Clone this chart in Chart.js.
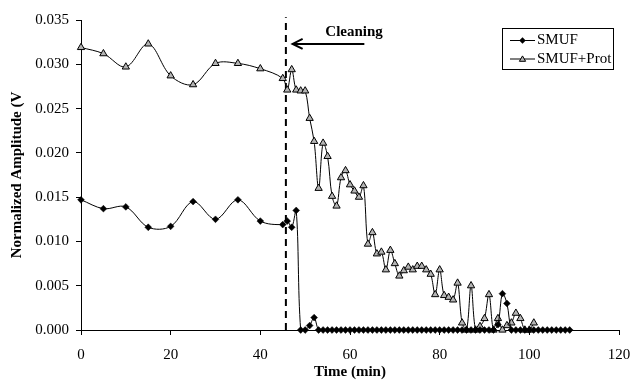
<!DOCTYPE html>
<html>
<head>
<meta charset="utf-8">
<script src="https://cdn.jsdelivr.net/npm/chart.js@4.4.1/dist/chart.umd.min.js"></script>
<style>
  body { margin: 0; background: #fff; }
</style>
</head>
<body>
<canvas id="chart" width="631" height="380"></canvas>
<script>
// values (time in min, amplitude in V)
const smufTime = [0, 5, 10, 15, 20, 25, 30, 35, 40, 45,
  46, 47, 48, 49, 50, 51, 52, 53, 54, 55, 56, 57, 58, 59, 60,
  61, 62, 63, 64, 65, 66, 67, 68, 69, 70, 71, 72, 73, 74, 75,
  76, 77, 78, 79, 80, 81, 82, 83, 84, 85, 86, 87, 88, 89, 90,
  91, 92, 93, 94, 95, 96, 97, 98, 99, 100, 101, 102, 103, 104, 105,
  106, 107, 108, 109];
const smufValue = [0.0147, 0.0137, 0.0139, 0.0116, 0.0117, 0.0145, 0.0125, 0.0147, 0.0123, 0.0119,
  0.0123, 0.0116, 0.0135, 0, 0, 0.0005, 0.0014, 0, 0, 0, 0, 0, 0, 0, 0,
  0, 0, 0, 0, 0, 0, 0, 0, 0, 0, 0, 0, 0, 0, 0,
  0, 0, 0, 0, 0, 0, 0, 0, 0, 0, 0, 0, 0, 0, 0,
  0, 0, 0.0006, 0.0041, 0.0030, 0, 0, 0, 0, 0, 0, 0, 0, 0, 0,
  0, 0, 0, 0];

const protTime = [0, 5, 10, 15, 20, 25, 30, 35, 40, 45,
  46, 47, 48, 49, 50, 51, 52, 53, 54, 55, 56, 57, 58, 59, 60,
  61, 62, 63, 64, 65, 66, 67, 68, 69, 70, 71, 72, 73, 74, 75,
  76, 77, 78, 79, 80, 81, 82, 83, 84, 85, 86, 87, 88, 89, 90,
  91, 92, 93, 94, 95, 96, 97, 98, 99, 100, 101];
const protValue = [0.0319, 0.0312, 0.0297, 0.0323, 0.0287, 0.0277, 0.0301, 0.0301, 0.0295, 0.0284,
  0.0271, 0.0294, 0.0271, 0.0270, 0.0270, 0.0239, 0.0213, 0.0160, 0.0211, 0.0196, 0.0151, 0.0140, 0.0172, 0.0180, 0.0164,
  0.0157, 0.0150, 0.0163, 0.0097, 0.0110, 0.0086, 0.0088, 0.0068, 0.0090, 0.0075, 0.0061, 0.0067, 0.0071, 0.0068, 0.0072,
  0.0072, 0.0068, 0.0063, 0.0040, 0.0068, 0.0039, 0.0037, 0.0034, 0.0053, 0.0008, 0, 0.0050, 0, 0.0004, 0.0013,
  0.0040, 0, 0.0013, 0, 0.0005, 0.0008, 0.0019, 0.0013, 0, 0, 0.0008];

const seriesNames = ['SMUF', 'SMUF+Prot'];

// cleaning marker
const cleaningTime = 45.7;
const cleaningLine = [0, 0.0353];
const cleaningLabel = 'Cleaning';
const arrowFrom = [63.2, 0.0323];
const arrowTo = [47.2, 0.0323];
const labelAt = [54.5, 0.0332];

const font = 'Liberation Serif';
const protFill = '#b4b4b4';

function toPoints(xs, ys) {
    let pts = [];
    for (let i = 0; i < xs.length; i++) {
        pts.push({x: xs[i], y: ys[i]});
    }
    return pts;
}

function diamond(ctx, x, y, r) {
    ctx.beginPath();
    ctx.moveTo(x - r, y);
    ctx.lineTo(x, y - r);
    ctx.lineTo(x + r, y);
    ctx.lineTo(x, y + r);
    ctx.closePath();
    ctx.fillStyle = '#000';
    ctx.fill();
}

function triangle(ctx, x, y, r) {
    ctx.beginPath();
    for (let k = 0; k < 3; k++) {
        let a = k * 2 * Math.PI / 3;
        let px = x + Math.sin(a) * r, py = y - Math.cos(a) * r;
        if (k === 0) ctx.moveTo(px, py); else ctx.lineTo(px, py);
    }
    ctx.closePath();
    ctx.fillStyle = protFill;
    ctx.fill();
    ctx.lineWidth = 1;
    ctx.strokeStyle = '#000';
    ctx.stroke();
}

const extras = {
    id: 'extras',
    afterDraw(chart) {
        const ctx = chart.ctx;
        const xs = chart.scales.x, ys = chart.scales.y;
        ctx.save();

        // arrow + label
        let x1 = xs.getPixelForValue(arrowFrom[0]), y1 = ys.getPixelForValue(arrowFrom[1]);
        let x2 = xs.getPixelForValue(arrowTo[0]), y2 = ys.getPixelForValue(arrowTo[1]);
        ctx.strokeStyle = '#000';
        ctx.lineWidth = 2;
        ctx.beginPath();
        ctx.moveTo(x1, y1);
        ctx.lineTo(x2, y2);
        ctx.moveTo(x2 + 10, y2 - 5);
        ctx.lineTo(x2, y2);
        ctx.lineTo(x2 + 10, y2 + 5);
        ctx.stroke();
        ctx.fillStyle = '#000';
        ctx.font = 'bold 15px "' + font + '"';
        ctx.textAlign = 'left';
        ctx.textBaseline = 'alphabetic';
        ctx.fillText(cleaningLabel, xs.getPixelForValue(labelAt[0]), ys.getPixelForValue(labelAt[1]));

        // legend
        const bx = 502, by = 28, bw = 111, bh = 41;
        ctx.fillStyle = '#fff';
        ctx.fillRect(bx, by, bw, bh);
        ctx.lineWidth = 1;
        ctx.strokeStyle = '#000';
        ctx.strokeRect(bx + 0.5, by + 0.5, bw, bh);
        const rows = [40.5, 59];
        ctx.font = '15px "' + font + '"';
        ctx.textBaseline = 'middle';
        rows.forEach((ry, i) => {
            ctx.beginPath();
            ctx.moveTo(510, ry);
            ctx.lineTo(535, ry);
            ctx.lineWidth = 1;
            ctx.strokeStyle = '#000';
            ctx.stroke();
            if (i === 0) diamond(ctx, 522.5, ry, 3.2); else triangle(ctx, 522.5, ry + 0.5, 3.6);
            ctx.fillStyle = '#000';
            ctx.fillText(seriesNames[i], 537, ry);
        });
        ctx.restore();
    }
};

new Chart(document.getElementById('chart'), {
    type: 'line',
    data: {
        datasets: [{
            label: seriesNames[0],
            data: toPoints(smufTime, smufValue),
            borderColor: '#000',
            borderWidth: 1,
            tension: 0.35,
            pointStyle: 'rectRot',
            pointRadius: 3.4,
            pointBackgroundColor: '#000',
            pointBorderColor: '#000',
            pointBorderWidth: 0.5,
            clip: false,
        }, {
            label: seriesNames[1],
            data: toPoints(protTime, protValue),
            borderColor: '#000',
            borderWidth: 1,
            tension: 0.35,
            pointStyle: 'triangle',
            pointRadius: 4.2,
            pointBackgroundColor: protFill,
            pointBorderColor: '#000',
            pointBorderWidth: 1,
            clip: false,
        }, {
            label: 'cleaning',
            data: [{x: cleaningTime, y: cleaningLine[0]}, {x: cleaningTime, y: cleaningLine[1]}],
            borderColor: '#000',
            borderWidth: 2,
            borderDash: [7, 5],
            pointRadius: 0,
            clip: false,
        }]
    },
    options: {
        responsive: false,
        animation: false,
        devicePixelRatio: 1,
        layout: {padding: {left: 0, top: 20, right: 0, bottom: 0}},
        plugins: {legend: {display: false}, tooltip: {enabled: false}},
        scales: {
            x: {
                type: 'linear',
                min: 0,
                max: 120,
                ticks: {stepSize: 20, padding: 11, color: '#000', font: {family: font, size: 15}},
                grid: {display: true, drawOnChartArea: false, drawTicks: true, tickLength: 5, color: '#000'},
                border: {display: true, color: '#000', width: 1},
                title: {display: true, text: 'Time (min)', color: '#000',
                    font: {family: font, size: 15, weight: 'bold', lineHeight: 1}, padding: {top: 0, bottom: 0}},
                afterFit(scale) {
                    scale.height = 50;
                    scale.paddingLeft = 0;
                    scale.paddingRight = 12;
                }
            },
            y: {
                min: 0,
                max: 0.035,
                ticks: {stepSize: 0.005, padding: 7, color: '#000', font: {family: font, size: 15},
                    callback: v => v.toFixed(3)},
                grid: {display: true, drawOnChartArea: false, drawTicks: true, tickLength: 5, color: '#000'},
                border: {display: true, color: '#000', width: 1},
                title: {display: true, text: 'Normalized Amplitude (V', color: '#000',
                    font: {family: font, size: 15, weight: 'bold'}, padding: {top: 8, bottom: 0}},
                afterFit(scale) {
                    scale.width = 81;
                    scale.paddingTop = 0;
                    scale.paddingBottom = 0;
                }
            }
        }
    },
    plugins: [extras]
});
</script>
</body>
</html>
